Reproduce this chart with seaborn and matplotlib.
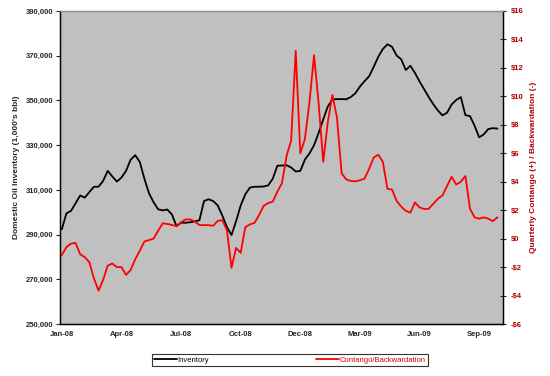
import numpy as np
import pandas as pd
import matplotlib
matplotlib.use('Agg')
import matplotlib.pyplot as plt
import seaborn as sns
from matplotlib.ticker import FuncFormatter, MultipleLocator, FixedLocator

# weekly data, Jan-08 .. Sep-09
tick_labels = ['Jan-08', 'Apr-08', 'Jul-08', 'Oct-08', 'Dec-08', 'Mar-09', 'Jun-09', 'Sep-09']

inventory = [
    292.4, 299.5, 300.6, 304.0, 307.5, 306.5, 309.0, 311.4, 311.4, 314.0,
    318.5, 316.0, 313.7, 315.5, 318.5, 323.5, 325.5, 322.5, 315.0, 308.5,
    304.5, 301.3, 300.8, 301.2, 299.0, 293.8, 295.3, 295.3, 295.5, 295.9,
    296.4, 305.0, 305.8, 305.0, 303.0, 298.5, 293.3, 289.8, 296.0, 303.0,
    308.0, 311.0, 311.4, 311.4, 311.5, 312.0, 315.0, 320.8, 320.9, 321.0,
    320.0, 318.2, 318.5, 323.5, 326.3, 330.0, 335.5, 341.5, 347.3, 350.4,
    350.6, 350.6, 350.5, 351.5, 353.2, 356.2, 358.6, 360.8, 365.0, 369.5,
    373.0, 375.1, 374.0, 370.1, 368.4, 363.6, 365.5, 362.3, 358.5, 355.0,
    351.5, 348.3, 345.5, 343.3, 344.5, 348.2, 350.2, 351.5, 343.4, 343.0,
    338.7, 333.5, 334.8, 337.2, 337.6, 337.4,
]

contango = [
    -1.15, -0.60, -0.35, -0.30, -1.10, -1.30, -1.65, -2.80, -3.65, -2.90,
    -1.90, -1.75, -2.00, -2.00, -2.55, -2.20, -1.45, -0.85, -0.20, -0.10,
    0.00, 0.55, 1.08, 1.03, 0.96, 0.88, 1.15, 1.35, 1.35, 1.21,
    0.95, 0.95, 0.95, 0.90, 1.25, 1.30, 0.60, -2.05, -0.65, -1.00,
    0.80, 1.00, 1.10, 1.65, 2.30, 2.50, 2.60, 3.30, 3.90, 5.80,
    6.90, 13.20, 6.00, 7.00, 9.60, 12.90, 9.50, 5.40, 8.20, 10.10,
    8.50, 4.60, 4.17, 4.05, 4.03, 4.10, 4.22, 4.90, 5.70, 5.90,
    5.40, 3.50, 3.45, 2.65, 2.25, 1.95, 1.82, 2.55, 2.20, 2.08,
    2.10, 2.45, 2.80, 3.04, 3.70, 4.35, 3.80, 4.00, 4.40, 2.10,
    1.50, 1.40, 1.50, 1.40, 1.23, 1.50,
]

df = pd.DataFrame({
    'week': np.arange(len(inventory)),
    'Inventory': np.array(inventory) * 1000,
    'Contango/Backwardation': contango,
})

sns.set_style('white')
plt.rcParams['font.family'] = ['Liberation Sans', 'DejaVu Sans']
plt.rcParams['font.weight'] = 'bold'

fig = plt.figure(figsize=(5.5, 3.76), dpi=100)
ax1 = fig.add_axes([60 / 550, 1 - 324 / 376, 443 / 550, 313 / 376])
ax1.set_facecolor('#C0C0C0')

sns.lineplot(data=df, x='week', y='Inventory', ax=ax1, color='black', lw=1.3, label='Inventory', legend=False)
ax2 = ax1.twinx()
sns.lineplot(data=df, x='week', y='Contango/Backwardation', ax=ax2, color='#FF0000', lw=1.3,
             label='Contango/Backwardation', legend=False)

ax1.set_xlim(-0.4, 96.2)
ax1.set_ylim(250000, 390000)
ax2.set_ylim(-6, 16)

ax1.xaxis.set_major_locator(FixedLocator(np.arange(0, 96, 13)))
ax1.set_xticklabels(tick_labels)
ax1.xaxis.set_minor_locator(MultipleLocator(1))
ax1.tick_params(axis='x', which='both', direction='inout', length=4, width=0.8, labelsize=5.5, pad=3)

ax1.yaxis.set_major_locator(FixedLocator(np.arange(250000, 390001, 20000)))
ax1.yaxis.set_major_formatter(FuncFormatter(lambda v, p: f'{int(v):,}'))
ax1.tick_params(axis='y', direction='out', length=3, width=0.8, labelsize=5.5, pad=2)

ax2.yaxis.set_major_locator(MultipleLocator(2))
ax2.yaxis.set_major_formatter(FuncFormatter(lambda v, p: f'${int(v)}' if v >= 0 else f'-${int(-v)}'))
ax2.tick_params(axis='y', direction='inout', length=5, width=0.8, labelsize=5.5, labelcolor='#B00000', pad=3)

for lab in ax1.get_xticklabels() + ax1.get_yticklabels() + ax2.get_yticklabels():
    lab.set_fontweight('bold')

ax1.set_xlabel('')
ax1.set_ylabel("Domestic Oil Inventory (1,000's bbl)", fontsize=6, fontweight='bold', labelpad=4)
ax2.set_ylabel('Quarterly Contango (+) / Backwardation (-)', fontsize=6, fontweight='bold',
               color='#B00000', rotation=90, labelpad=5)

for a in (ax1, ax2):
    a.spines['left'].set_color('black')
    a.spines['right'].set_color('black')
    a.spines['bottom'].set_color('black')
    a.spines['top'].set_color('#909090')
    for s in a.spines.values():
        s.set_linewidth(0.9)

h1, l1 = ax1.get_legend_handles_labels()
h2, l2 = ax2.get_legend_handles_labels()
leg = fig.legend(h1 + h2, l1 + l2, loc='center', bbox_to_anchor=(290 / 550, 1 - 360 / 376), ncol=2,
                 fontsize=5.5, frameon=True, fancybox=False, edgecolor='black', handlelength=3,
                 columnspacing=14, borderpad=0.3, handletextpad=0.1, borderaxespad=0)
leg.get_frame().set_linewidth(0.8)
for t, c in zip(leg.get_texts(), ['black', '#D00000']):
    t.set_color(c)
    t.set_fontweight('normal')

fig.savefig('out.png', dpi=100)
